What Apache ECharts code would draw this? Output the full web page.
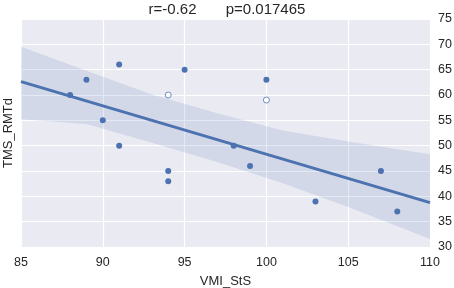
<!DOCTYPE html>
<html><head><meta charset="utf-8">
<script src="https://cdn.jsdelivr.net/npm/echarts@6/dist/echarts.min.js"></script>
<style>html,body{margin:0;padding:0;background:#fff}#c{width:454px;height:288px}</style>
</head><body><div id="c"></div>
<script>
// filled points
const vmiFilled = [88, 89, 91, 90, 95, 100, 91, 94, 94, 98, 99, 103, 107, 108];
const tmsFilled = [60, 63, 66, 55, 65, 63, 50, 45, 43, 50, 46, 39, 45, 37];
// open (excluded) points
const vmiOpen = [94, 100];
const tmsOpen = [60, 59];
// confidence band
const bandX = [85, 89, 93, 97, 101, 105, 110];
const bandUpper = [69.5, 64.8, 60.1, 56.4, 53.0, 50.8, 48.3];
const bandLower = [55.2, 54.3, 50.6, 46.8, 42.6, 37.9, 31.6];
const xTicks = [85, 90, 95, 100, 105, 110];
const yTicks = [30, 35, 40, 45, 50, 55, 60, 65, 70, 75];
const titleText = 'r=-0.62       p=0.017465';

// least squares fit on filled points
const n = vmiFilled.length;
const mx = vmiFilled.reduce((a, b) => a + b, 0) / n;
const my = tmsFilled.reduce((a, b) => a + b, 0) / n;
let sxy = 0, sxx = 0;
for (let i = 0; i < n; i++) { sxy += (vmiFilled[i] - mx) * (tmsFilled[i] - my); sxx += (vmiFilled[i] - mx) ** 2; }
const slope = sxy / sxx, icpt = my - slope * mx;
const xMin = xTicks[0], xMax = xTicks[xTicks.length - 1];
const fitLine = [[xMin, icpt + slope * xMin], [xMax, icpt + slope * xMax]];

const blue = '#4C72B0';
const font = 'Liberation Sans, Arial, sans-serif';
const chart = echarts.init(document.getElementById('c'));
chart.setOption({
  animation: false,
  backgroundColor: '#ffffff',
  title: { text: titleText, left: 'center', top: -3, textStyle: { fontFamily: font, fontSize: 15, fontWeight: 'normal', color: '#262626' } },
  grid: { left: 21, right: 24, top: 19, bottom: 41, show: true, backgroundColor: '#EAEAF2', borderWidth: 0, containLabel: false, outerBoundsMode: 'none' },
  xAxis: {
    type: 'value', min: xMin, max: xMax, interval: 5,
    name: 'VMI_StS', nameLocation: 'middle', nameGap: 28,
    nameTextStyle: { fontFamily: font, fontSize: 13, color: '#262626' },
    axisLine: { show: false }, axisTick: { show: false },
    axisLabel: { fontFamily: font, fontSize: 12.5, color: '#262626', margin: 9 },
    splitLine: { lineStyle: { color: '#ffffff', width: 1.2 } }
  },
  yAxis: [{
    type: 'value', position: 'right', min: yTicks[0], max: yTicks[yTicks.length - 1], interval: 5,
    axisLine: { show: false }, axisTick: { show: false },
    axisLabel: { fontFamily: font, fontSize: 12.5, color: '#262626', margin: 8 },
    splitLine: { lineStyle: { color: '#ffffff', width: 1.2 } }
  }, {
    type: 'value', position: 'left', min: yTicks[0], max: yTicks[yTicks.length - 1], interval: 5,
    name: 'TMS_RMTd', nameLocation: 'middle', nameGap: 6,
    nameTextStyle: { fontFamily: font, fontSize: 13, color: '#262626' },
    axisLine: { show: false }, axisTick: { show: false }, axisLabel: { show: false }, splitLine: { show: false }
  }],
  series: [
    {
      type: 'custom', silent: true, z: 1,
      data: bandX.map((x, i) => [x, bandUpper[i], bandLower[i]]),
      renderItem: function (params, api) {
        if (params.dataIndex !== 0) return;
        const top = bandX.map((x, i) => api.coord([x, bandUpper[i]]));
        const bot = bandX.map((x, i) => api.coord([x, bandLower[i]])).reverse();
        return { type: 'polygon', shape: { points: top.concat(bot) }, style: { fill: 'rgba(76,114,176,0.15)' } };
      }
    },
    { type: 'line', data: fitLine, symbol: 'none', lineStyle: { color: blue, width: 3 }, z: 3 },
    { type: 'scatter', data: vmiFilled.map((x, i) => [x, tmsFilled[i]]), symbolSize: 6, itemStyle: { color: blue, opacity: 1 }, z: 4 },
    { type: 'scatter', data: vmiOpen.map((x, i) => [x, tmsOpen[i]]), symbolSize: 6, itemStyle: { color: '#ffffff', borderColor: blue, borderWidth: 0.8, opacity: 1 }, z: 4 }
  ]
});
</script></body></html>
